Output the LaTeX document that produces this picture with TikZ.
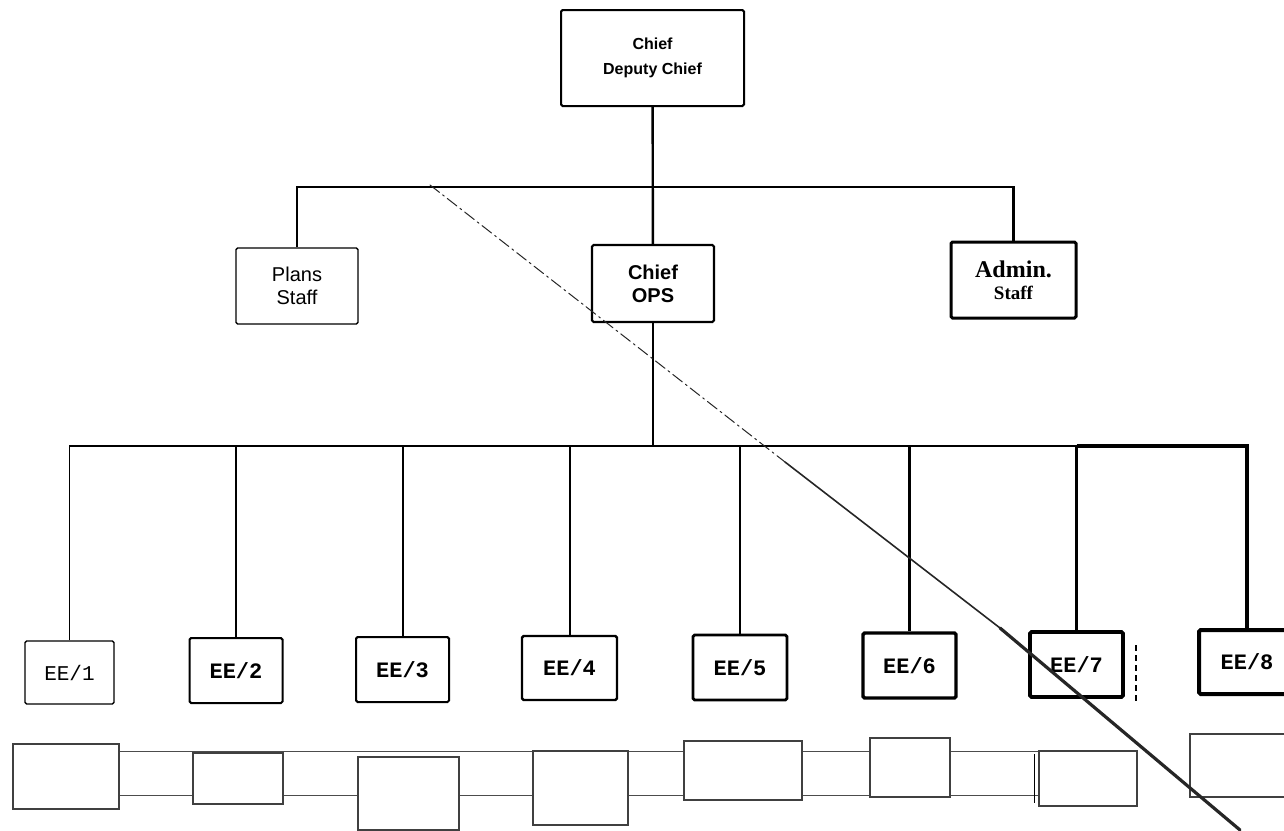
\documentclass[tikz,border=0pt]{standalone}
\usepackage{fontspec}
\setmainfont{Liberation Sans}
\setmonofont{Liberation Mono}
\newfontfamily\heavyserif{Liberation Serif}
\usetikzlibrary{backgrounds}

\begin{document}
\begin{tikzpicture}[
	x=0.5pt, y=-0.5pt,
	box/.style={ draw, rounded corners=0.8pt, fill=white, inner sep=0pt, align=center },
	eebox/.style={ box, minimum width=46.5pt, minimum height=32.5pt, font=\ttfamily\bfseries\fontsize{11}{13}\selectfont },
	blank/.style={ draw=black!75, line width=0.8pt, fill=white, inner sep=0pt },
	strip/.style={ draw=black!70, line width=0.5pt },
	crease/.style={ black!85, line cap=round }
]
\useasboundingbox (0,0) rectangle (1284,830);

\node at (652.5,58) (chief) [box,line width=1pt,minimum width=91.5pt,minimum height=48pt,font=\bfseries\fontsize{8}{12.5}\selectfont] {Chief\\Deputy Chief};
\node at (297,286) (plans) [box,line width=0.7pt,minimum width=61pt,minimum height=38pt,font=\fontsize{10}{11.5}\selectfont] {Plans\\Staff};
\node at (653,283.5) (ops) [box,line width=1.1pt,minimum width=61pt,minimum height=38.5pt,font=\bfseries\fontsize{10}{11.5}\selectfont] {Chief\\OPS};
\node at (1013.5,280) (admin) [box,line width=1.5pt,minimum width=62.5pt,minimum height=38pt,font=\heavyserif\bfseries\fontsize{12}{11}\selectfont] {Admin.\\\fontsize{9.5}{11}\selectfont Staff};

\node at (69.5,672.5) (ee1) [eebox,line width=0.7pt,minimum width=44.5pt,minimum height=31.5pt,font=\ttfamily\fontsize{10.5}{13}\selectfont] {EE/1};
\node at (236,670.5) (ee2) [eebox,line width=1pt] {EE/2};
\node at (402.5,669.5) (ee3) [eebox,line width=1pt] {EE/3};
\node at (569.5,668) (ee4) [eebox,line width=1.2pt,minimum width=47.5pt,minimum height=32pt] {EE/4};
\node at (740,667.5) (ee5) [eebox,line width=1.4pt,minimum width=47pt] {EE/5};
\node at (909.5,665.5) (ee6) [eebox,line width=1.7pt] {EE/6};
\node at (1076.5,664.5) (ee7) [eebox,line width=1.9pt] {EE/7};
\node at (1247,662) (ee8) [eebox,line width=2pt,minimum width=48pt,minimum height=32pt] {EE/8};

\node at (66,776.5) (b1) [blank,minimum width=53pt,minimum height=32.5pt] {};
\node at (238,778.5) (b2) [blank,minimum width=45pt,minimum height=25.5pt] {};
\node at (408.5,793.5) (b3) [blank,minimum width=50.5pt,minimum height=36.5pt] {};
\node at (580.5,788) (b4) [blank,minimum width=47.5pt,minimum height=37pt] {};
\node at (743,770.5) (b5) [blank,minimum width=59pt,minimum height=29.5pt] {};
\node at (910,767.5) (b6) [blank,minimum width=40pt,minimum height=29.5pt] {};
\node at (1088,778.5) (b7) [blank,minimum width=49pt,minimum height=27.5pt] {};
\node at (1245,765.5) (b8) [blank,minimum width=55pt,minimum height=31.5pt] {};

\coordinate (tbar) at (653,187);
\coordinate (bar) at (653,446);
\coordinate (su) at (0,751);
\coordinate (sd) at (0,795);

% upper level
\draw[line width=1.2pt] (chief) -- (ops);
\draw[line width=1.2pt] (plans.north) |- (tbar) -| (admin.north);
\draw[line width=1.2pt] (ops) -- (bar);

% EE level
\draw[line width=0.75pt] (ee1.north) |- (ee2.north |- bar);
\foreach \i/\j/\w in {2/3/0.9,3/4/1.0,4/5/1.1,5/6/1.25,6/7/1.4}
	\draw[line width=\w pt] (ee\i.north |- bar) -- (ee\j.north |- bar);
\draw[line width=1.8pt] (ee7.north |- bar) -| (ee8.north);
\foreach \i/\w in {2/1,3/1,4/1,5/1.1,6/1.3,7/1.4}
	\draw[line width=\w pt] (ee\i.north) -- (ee\i.north |- bar);

\begin{scope}[on background layer]
\draw[strip] (b1.east |- su) -- (b7.west |- su);
\draw[strip] (b1.east |- sd) -- (b7.west |- sd);
\end{scope}
\draw[line width=0.6pt] ([xshift=-2pt,yshift=-2pt]b7.north west) -- ([xshift=-2pt,yshift=2pt]b7.south west);

% scan marks
\coordinate (crA) at (430,185);
\coordinate (crB) at (785,462);
\coordinate (crC) at (1000,628);
\coordinate (crD) at (1240,830);
\draw[crease,line width=0.5pt,dash pattern=on 6pt off 2pt on 1pt off 2pt] (crA) -- (crB);
\draw[crease,line width=0.8pt] (crB) -- (crC);
\draw[crease,line width=1.6pt] (crC) -- (crD);
\coordinate (tickA) at (1136,645);
\coordinate (tickB) at (1136,702);
\draw[line width=1pt,dash pattern=on 3pt off 2pt] (tickA) -- (tickB);

\end{tikzpicture}
\end{document}
